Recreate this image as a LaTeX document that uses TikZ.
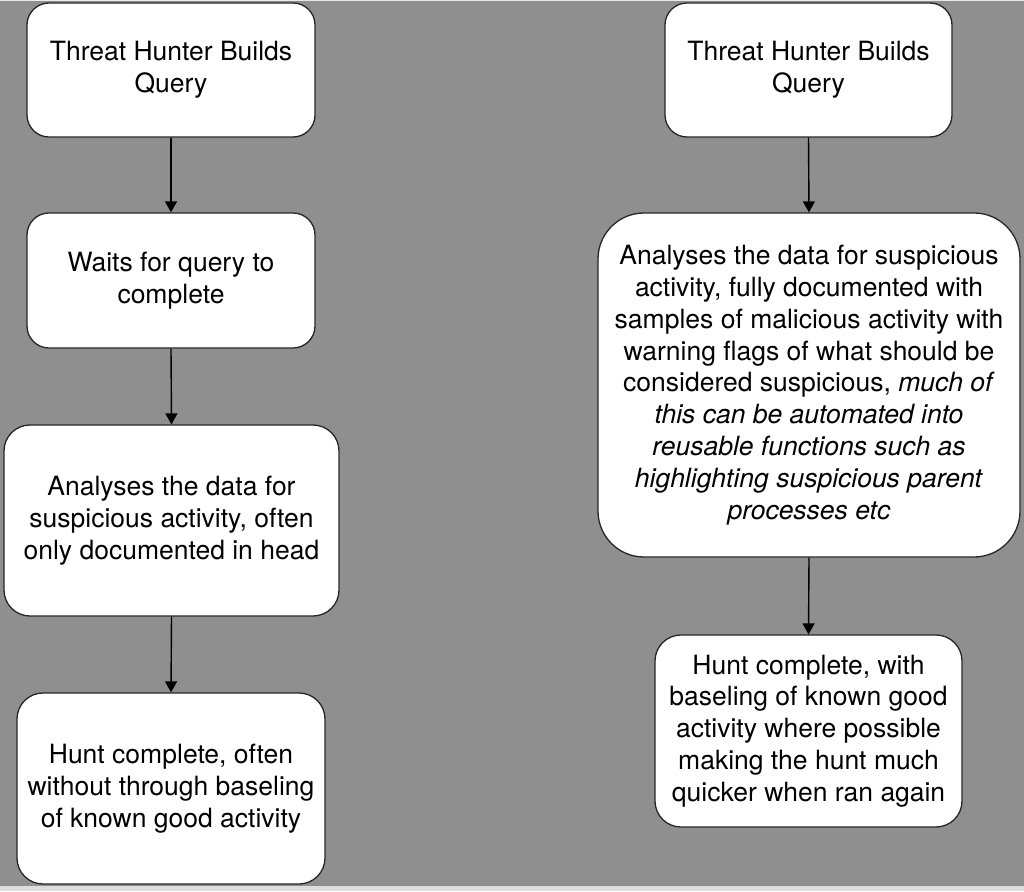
\documentclass[tikz,border=0pt]{standalone}
\usepackage{fontspec}
\setmainfont{TeX Gyre Heros}
\usetikzlibrary{arrows.meta}
\definecolor{bg}{HTML}{8F8F8F}
\tikzset{
  box/.style={draw=black!85, line width=1.3pt, fill=white, align=center, inner sep=0pt,
    font=\fontsize{26.5}{31.8}\selectfont},
  conn/.style={line width=1.4pt, -{Triangle[width=12pt,length=11pt]}}
}
\begin{document}
\begin{tikzpicture}[x=1pt,y=-1pt]
\fill[bg] (0,0) rectangle (1024,891);
\useasboundingbox (0,0) rectangle (1024,891);
\draw[white!80!bg, line width=1.5pt] (0,0.75) -- (1024,0.75);
\fill[white!70!bg] (0,886) rectangle (1024,891);
% left column
\node[box, rounded corners=22pt, minimum width=288pt, minimum height=134pt] (l1) at (171,70)
  {Threat Hunter Builds\\Query};
\node[box, rounded corners=22pt, minimum width=288pt, minimum height=135pt] (l2) at (171,280.5)
  {Waits for query to\\complete};
\node[box, rounded corners=26pt, minimum width=335pt, minimum height=191pt] (l3) at (171.5,520.5)
  {Analyses the data for\\suspicious activity, often\\only documented in head};
\node[box, rounded corners=26pt, minimum width=308pt, minimum height=191pt] (l4) at (171,788.5)
  {Hunt complete, often\\without through baseling\\of known good activity};
% right column
\node[box, rounded corners=22pt, minimum width=287pt, minimum height=134pt] (r1) at (808.5,70)
  {Threat Hunter Builds\\Query};
\node[box, rounded corners=46pt, minimum width=422pt, minimum height=344pt] (r2) at (809,385)
  {Analyses the data for suspicious\\activity, fully documented with\\samples of malicious activity with\\warning flags of what should be\\considered suspicious, \textit{much of}\\\textit{this can be automated into}\\\textit{reusable functions such as}\\\textit{highlighting suspicious parent}\\\textit{processes etc}};
\node[box, rounded corners=26pt, minimum width=307pt, minimum height=192pt] (r3) at (808.5,731)
  {Hunt complete, with\\baseling of known good\\activity where possible\\making the hunt much\\quicker when ran again};
% connectors
\draw[conn] (l1.south) -- (l2.north);
\draw[conn] (l2.south) -- (l3.north);
\draw[conn] (l3.south) -- (l4.north);
\draw[conn] (r1.south) -- (r2.north);
\draw[conn] (r2.south) -- (r3.north);
\end{tikzpicture}
\end{document}
